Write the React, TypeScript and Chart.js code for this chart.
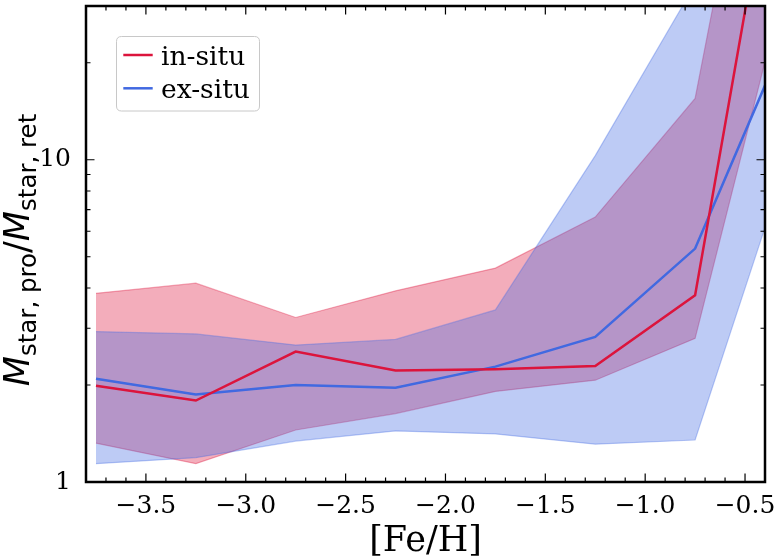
import React, { useEffect, useRef } from "react";
import { Chart, registerables } from "chart.js";

Chart.register(...registerables);

// ---- data ----
const feh = [-3.75, -3.25, -2.75, -2.25, -1.75, -1.25, -0.75, -0.25];
const inSituMedian = [1.99, 1.79, 2.54, 2.22, 2.24, 2.29, 3.8, 220];
const inSituUpper = [3.85, 4.14, 3.24, 3.92, 4.61, 6.64, 15.5, 610];
const inSituLower = [1.32, 1.14, 1.45, 1.63, 1.91, 2.07, 2.79, 47];
const exSituMedian = [2.09, 1.87, 2.0, 1.96, 2.28, 2.82, 5.3, 28];
const exSituUpper = [2.93, 2.88, 2.66, 2.77, 3.42, 10.3, 35, 200];
const exSituLower = [1.14, 1.19, 1.34, 1.44, 1.41, 1.31, 1.35, 11.8];

const seriesLabels = ["in-situ", "ex-situ"];
const xMajorTicks = [-3.5, -3.0, -2.5, -2.0, -1.5, -1.0, -0.5];
const xMinorTicks = [
  -3.7, -3.6, -3.4, -3.3, -3.2, -3.1, -2.9, -2.8, -2.7, -2.6, -2.4, -2.3, -2.2,
  -2.1, -1.9, -1.8, -1.7, -1.6, -1.4, -1.3, -1.2, -1.1, -0.9, -0.8, -0.7, -0.6,
];
const yMajorTicks = [1, 10];
const yMinorTicks = [2, 3, 4, 5, 6, 7, 8, 9, 20];

const RED = "rgb(220,20,60)";
const BLUE = "rgb(65,105,225)";
const RED_FILL = "rgba(220,20,60,0.35)";
const BLUE_FILL = "rgba(65,105,225,0.35)";

const pts = (ys: number[]) => feh.map((x, i) => ({ x, y: ys[i] }));

const fmtX = (v: number) => {
  const s = Math.abs(v).toFixed(1);
  return v < 0 ? "\u2212" + s : s;
};

const decorPlugin = {
  id: "decor",
  afterDraw(chart: any) {
    const { ctx, chartArea: a, scales } = chart;
    const x = scales.x;
    const y = scales.y;
    ctx.save();
    // ticks (inward, all four sides)
    ctx.strokeStyle = "#000";
    ctx.lineWidth = 1.2;
    ctx.beginPath();
    const xTick = (v: number, len: number) => {
      const px = x.getPixelForValue(v);
      ctx.moveTo(px, a.bottom);
      ctx.lineTo(px, a.bottom - len);
      ctx.moveTo(px, a.top);
      ctx.lineTo(px, a.top + len);
    };
    const yTick = (v: number, len: number) => {
      const py = y.getPixelForValue(v);
      ctx.moveTo(a.left, py);
      ctx.lineTo(a.left + len, py);
      ctx.moveTo(a.right, py);
      ctx.lineTo(a.right - len, py);
    };
    xMajorTicks.forEach((v) => xTick(v, 8.5));
    xMinorTicks.forEach((v) => xTick(v, 4.5));
    yMajorTicks.forEach((v) => yTick(v, 8.5));
    yMinorTicks.forEach((v) => yTick(v, 4.5));
    ctx.stroke();
    // frame
    ctx.lineWidth = 2.5;
    ctx.strokeRect(a.left, a.top, a.right - a.left, a.bottom - a.top);

    // legend
    const lx = 116.5, ly = 36.5, lw = 143, lh = 74.5, r = 5;
    ctx.beginPath();
    ctx.moveTo(lx + r, ly);
    ctx.lineTo(lx + lw - r, ly);
    ctx.quadraticCurveTo(lx + lw, ly, lx + lw, ly + r);
    ctx.lineTo(lx + lw, ly + lh - r);
    ctx.quadraticCurveTo(lx + lw, ly + lh, lx + lw - r, ly + lh);
    ctx.lineTo(lx + r, ly + lh);
    ctx.quadraticCurveTo(lx, ly + lh, lx, ly + lh - r);
    ctx.lineTo(lx, ly + r);
    ctx.quadraticCurveTo(lx, ly, lx + r, ly);
    ctx.closePath();
    ctx.fillStyle = "rgba(255,255,255,0.8)";
    ctx.fill();
    ctx.strokeStyle = "rgba(200,200,200,1)";
    ctx.lineWidth = 1;
    ctx.stroke();
    const ds = chart.data.datasets;
    const rows = [
      { label: ds[0].label, color: ds[0].borderColor, yLine: 55, yText: 64.8 },
      { label: ds[1].label, color: ds[1].borderColor, yLine: 88.3, yText: 98 },
    ];
    ctx.font = '26.5px "DejaVu Serif"';
    ctx.textAlign = "left";
    ctx.textBaseline = "alphabetic";
    rows.forEach((row) => {
      ctx.strokeStyle = row.color;
      ctx.lineWidth = 2.5;
      ctx.beginPath();
      ctx.moveTo(123.3, row.yLine);
      ctx.lineTo(152.7, row.yLine);
      ctx.stroke();
      ctx.fillStyle = "#000";
      ctx.fillText(row.label, 161, row.yText);
    });

    // y-axis title: M_{star, pro}/M_{star, ret}
    const F = 35;
    const S = F * 0.7;
    const pieces = [
      { t: "M", font: `italic ${F}px "DejaVu Sans"`, dy: 0 },
      { t: "star, pro", font: `${S}px "DejaVu Sans"`, dy: 7 },
      { t: "/", font: `${F}px "DejaVu Sans"`, dy: 0 },
      { t: "M", font: `italic ${F}px "DejaVu Sans"`, dy: 0 },
      { t: "star, ret", font: `${S}px "DejaVu Sans"`, dy: 7 },
    ];
    let total = 0;
    const widths = pieces.map((p) => {
      ctx.font = p.font;
      const w = ctx.measureText(p.t).width;
      total += w;
      return w;
    });
    ctx.translate(28.5, 250);
    ctx.rotate(-Math.PI / 2);
    ctx.fillStyle = "#000";
    let cx = -total / 2;
    pieces.forEach((p, i) => {
      ctx.font = p.font;
      ctx.fillText(p.t, cx, p.dy);
      cx += widths[i];
    });
    ctx.restore();
  },
};

export default function App() {
  const ref = useRef<HTMLCanvasElement | null>(null);
  useEffect(() => {
    if (!ref.current) return;
    const chart = new Chart(ref.current, {
      type: "line",
      data: {
        datasets: [
          {
            label: seriesLabels[0],
            data: pts(inSituMedian),
            borderColor: RED,
            borderWidth: 2.5,
            pointRadius: 0,
            fill: false,
            order: 0,
          },
          {
            label: seriesLabels[1],
            data: pts(exSituMedian),
            borderColor: BLUE,
            borderWidth: 2.5,
            pointRadius: 0,
            fill: false,
            order: 0,
          },
          {
            label: "ex-situ upper",
            data: pts(exSituUpper),
            borderColor: BLUE_FILL,
            backgroundColor: BLUE_FILL,
            borderWidth: 1.2,
            pointRadius: 0,
            fill: "+1",
            order: 1,
          },
          {
            label: "ex-situ lower",
            data: pts(exSituLower),
            borderColor: BLUE_FILL,
            borderWidth: 1.2,
            pointRadius: 0,
            fill: false,
            order: 1,
          },
          {
            label: "in-situ upper",
            data: pts(inSituUpper),
            borderColor: RED_FILL,
            backgroundColor: RED_FILL,
            borderWidth: 1.2,
            pointRadius: 0,
            fill: "+1",
            order: 2,
          },
          {
            label: "in-situ lower",
            data: pts(inSituLower),
            borderColor: RED_FILL,
            borderWidth: 1.2,
            pointRadius: 0,
            fill: false,
            order: 2,
          },
        ],
      },
      options: {
        animation: false,
        responsive: false,
        devicePixelRatio: 1,
        layout: { padding: { left: 0, top: 6, right: 15, bottom: 0 } },
        plugins: {
          legend: { display: false },
          tooltip: { enabled: false },
          title: { display: false },
        },
        scales: {
          x: {
            type: "linear",
            min: -3.8,
            max: -0.4,
            grid: { display: false },
            border: { display: false },
            afterBuildTicks: (s: any) => {
              s.ticks = xMajorTicks.map((v) => ({ value: v }));
            },
            afterFit: (s: any) => {
              s.height = 77;
              s.paddingLeft = 0;
              s.paddingRight = 0;
            },
            ticks: {
              autoSkip: false,
              maxRotation: 0,
              color: "#000",
              padding: 1,
              font: { family: "DejaVu Serif", size: 25 },
              callback: (v: any) => fmtX(Number(v)),
            },
            title: {
              display: true,
              text: "[Fe/H]",
              color: "#000",
              font: { family: "DejaVu Serif", size: 35 },
              padding: { top: 0, bottom: -4 },
            },
          },
          y: {
            type: "logarithmic",
            min: 1,
            max: 30,
            grid: { display: false },
            border: { display: false },
            afterBuildTicks: (s: any) => {
              s.ticks = yMajorTicks.map((v) => ({ value: v }));
            },
            afterFit: (s: any) => {
              s.width = 86;
              s.paddingTop = 0;
              s.paddingBottom = 0;
            },
            ticks: {
              autoSkip: false,
              color: "#000",
              padding: 7,
              font: { family: "DejaVu Serif", size: 25 },
              callback: (v: any) => String(v),
            },
          },
        },
      },
      plugins: [decorPlugin],
    });
    return () => chart.destroy();
  }, []);
  return (
    <div style={{ position: "fixed", left: 0, top: 0, width: 780, height: 559, background: "#fff" }}>
      <canvas ref={ref} width={780} height={559} />
    </div>
  );
}
